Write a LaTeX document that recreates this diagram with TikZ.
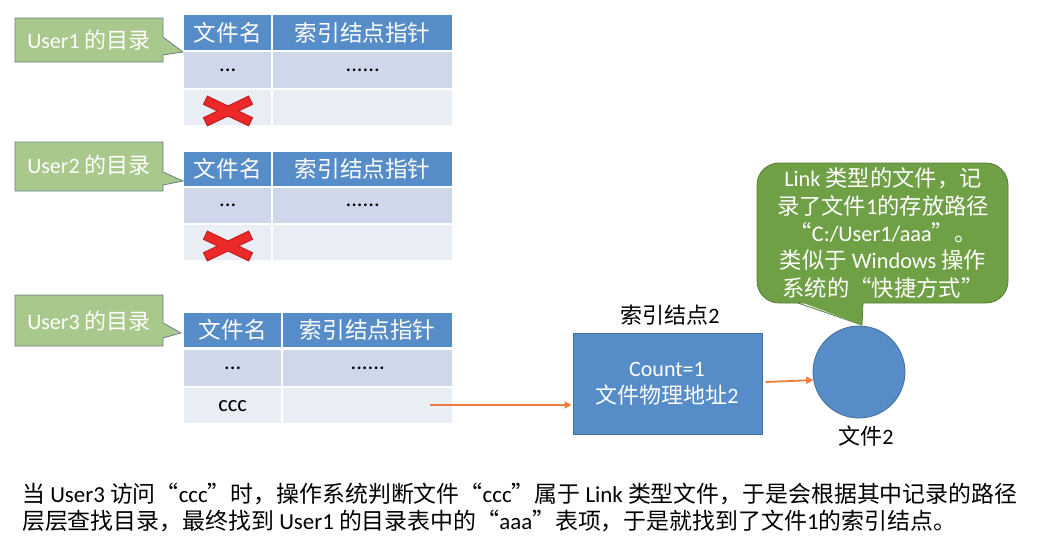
\documentclass[tikz,border=0pt]{standalone}
\usepackage{fontspec}
\setmainfont{Carlito}
\newfontfamily\cjk{Noto Sans CJK SC}
\newcommand\zh[1]{{\cjk #1}}
\usetikzlibrary{arrows.meta}
\definecolor{hdr}{RGB}{86,140,200}
\definecolor{rowa}{RGB}{207,216,234}
\definecolor{rowb}{RGB}{233,237,244}
\definecolor{cfill}{RGB}{169,200,140}
\definecolor{cline}{RGB}{110,125,140}
\definecolor{gfill}{RGB}{112,160,70}
\definecolor{gline}{RGB}{85,125,55}
\definecolor{bfill}{RGB}{86,140,200}
\definecolor{bline}{RGB}{65,110,155}
\definecolor{arrc}{RGB}{235,125,60}
\definecolor{xred}{RGB}{236,40,40}
\definecolor{xdark}{RGB}{185,30,30}
\tikzset{
 cellbox/.style n args={3}{anchor=north west,inner sep=0pt,minimum width=#1,minimum height=#2,fill=#3,font={\fontsize{22.6}{26}\selectfont}},
 hcell/.style 2 args={cellbox={#1}{#2}{hdr},text=white},
 acell/.style 2 args={cellbox={#1}{#2}{rowa},text=black},
 bcell/.style 2 args={cellbox={#1}{#2}{rowb},text=black},
 callshape/.style={fill=cfill,draw=cline,line width=0.8pt},
 calltext/.style={text=white,font={\fontsize{22}{26}\selectfont},inner sep=0pt},
 arr/.style={draw=arrc,line width=1.8pt,-{Triangle[length=7pt,width=7pt]}},
 lbl/.style={font={\fontsize{22}{26}\selectfont},inner sep=0pt},
 xout/.style={line width=10pt,xdark},
 xin/.style={line width=8pt,xred},
}
\begin{document}
\begin{tikzpicture}[x=1pt,y=-1pt]
\useasboundingbox (0,0) rectangle (1045,547);
\fill[white] (0,0) rectangle (1045,547);

% ---- callouts (left)
\draw[callshape] (15,18) -- (163,18) -- (163,37) -- (183,52) -- (163,55) -- (163,62) -- (15,62) -- cycle;
\node[calltext] (u1) at (89,40) {User1 \zh{的目录}};
\draw[callshape] (15,142) -- (163,142) -- (163,172) -- (183,181) -- (163,185) -- (163,191) -- (15,191) -- cycle;
\node[calltext] (u2) at (89,165) {User2 \zh{的目录}};
\draw[callshape] (15,295) -- (163,295) -- (163,323) -- (181,333) -- (163,338) -- (163,346) -- (15,346) -- cycle;
\node[calltext] (u3) at (89,321) {User3 \zh{的目录}};

% ---- table 1
\node[hcell={87pt}{35pt}] (t1a) at (184,15) {\zh{文件名}};
\node[hcell={179pt}{35pt}] (t1b) at (273,15) {\zh{索引结点指针}};
\node[acell={87pt}{36pt}] (t1c) at (184,52) {...};
\node[acell={179pt}{36pt}] (t1d) at (273,52) {......};
\node[bcell={87pt}{35pt}] (t1e) at (184,90) {};
\node[bcell={179pt}{35pt}] (t1f) at (273,90) {};
\draw[xout] (205,100) -- (251,122); \draw[xout] (205,122) -- (251,100);
\draw[xin] (206,100.5) -- (250,121.5); \draw[xin] (206,121.5) -- (250,100.5);

% ---- table 2
\node[hcell={87pt}{34pt}] (t2a) at (184,152) {\zh{文件名}};
\node[hcell={179pt}{34pt}] (t2b) at (273,152) {\zh{索引结点指针}};
\node[acell={87pt}{35pt}] (t2c) at (184,188) {...};
\node[acell={179pt}{35pt}] (t2d) at (273,188) {......};
\node[bcell={87pt}{35pt}] (t2e) at (184,225) {};
\node[bcell={179pt}{35pt}] (t2f) at (273,225) {};
\draw[xout] (205,235) -- (251,257); \draw[xout] (205,257) -- (251,235);
\draw[xin] (206,235.5) -- (250,256.5); \draw[xin] (206,256.5) -- (250,235.5);

% ---- table 3
\node[hcell={97pt}{34pt}] (t3a) at (184,313) {\zh{文件名}};
\node[hcell={169pt}{34pt}] (t3b) at (283,313) {\zh{索引结点指针}};
\node[acell={97pt}{36pt}] (t3c) at (184,350) {...};
\node[acell={169pt}{36pt}] (t3d) at (283,350) {......};
\node[bcell={97pt}{35pt}] (t3e) at (184,388) {ccc};
\node[bcell={169pt}{35pt}] (t3f) at (283,388) {};

% ---- index node 2
\node[lbl] (boxlbl) at (670,315) {\zh{索引结点}2};
\node[fill=bfill,draw=bline,line width=1pt,minimum width=189pt,minimum height=101pt,inner sep=0pt] (box) at (667.5,383.5) {};
\node[lbl,text=white,align=center] (boxtxt) at (667,384) {Count=1\\[1pt]\zh{文件物理地址}2};

% ---- file 2
\node[circle,fill=bfill,draw=bline,line width=0.8pt,minimum size=92pt,inner sep=0pt] (circ) at (859,372) {};
\node[lbl] (circlbl) at (866,436) {\zh{文件}2};

% ---- connectors
\coordinate (cccend) at (430,405);
\draw[arr] (cccend) -- ([xshift=-1pt]box.west |- cccend);
\draw[arr] ([xshift=3pt]box.east |- 0,382) -- (circ.190);

% ---- green callout
\draw[fill=gfill,draw=gline,line width=0.8pt,rounded corners=22pt] (757,163) rectangle (1008,303);
\fill[gfill] (798,301) -- (862,325) -- (863,301) -- cycle;
\draw[gline,line width=0.8pt] (798,303) -- (862,325) -- (863,303);
\node[calltext,align=center,font={\fontsize{22.3}{27.3}\selectfont}] (note) at (883,233)
 {Link \zh{类型的文件，记}\\
  \zh{录了文件}1\zh{的存放路径}\\
  \zh{“}C:/User1/aaa\zh{”。}\\
  \zh{类似于} Windows \zh{操作}\\
  \zh{系统的“快捷方式”}};

% ---- bottom text
\node[anchor=north west,inner sep=0pt,align=left,font={\fontsize{22.9}{27}\selectfont}] (desc) at (22,483)
 {\zh{当} User3 \zh{访问“}ccc\zh{”时，操作系统判断文件“}ccc\zh{”属于} Link \zh{类型文件，于是会根据其中记录的路径}\\
  \zh{层层查找目录，最终找到} User1 \zh{的目录表中的“}aaa\zh{”表项，于是就找到了文件}1\zh{的索引结点。}};
\end{tikzpicture}
\end{document}
